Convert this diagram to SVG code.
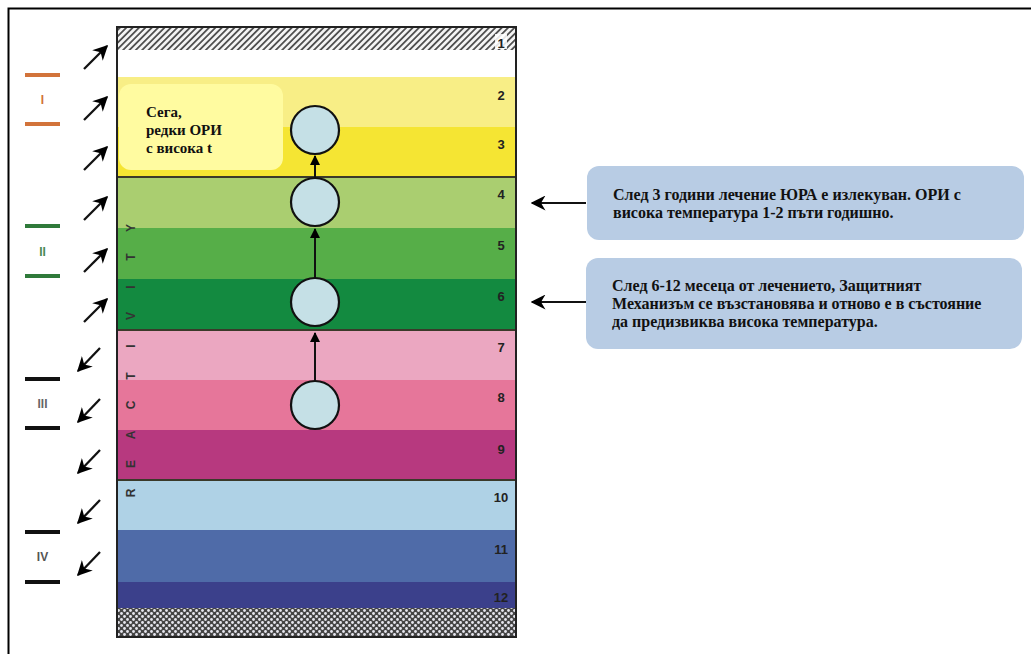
<svg xmlns="http://www.w3.org/2000/svg" width="1031" height="654" viewBox="0 0 1031 654">
<defs>
<pattern id="diag" width="4.5" height="4.5" patternUnits="userSpaceOnUse" patternTransform="rotate(45)">
<rect width="4.5" height="4.5" fill="#f4f4f4"/>
<rect width="1.8" height="4.5" fill="#505050"/>
</pattern>
<pattern id="dots" width="6" height="6" patternUnits="userSpaceOnUse">
<rect width="6" height="6" fill="#444"/>
<circle cx="1.5" cy="1.5" r="1.4" fill="#e6e6ee"/>
<circle cx="4.5" cy="4.5" r="1.4" fill="#e6e6ee"/>
</pattern>
<marker id="ah" viewBox="0 0 10 10" refX="9" refY="5" markerWidth="10" markerHeight="11" markerUnits="userSpaceOnUse" orient="auto">
<path d="M0,0 L10,5 L0,10 Z" fill="#000"/>
</marker>
<marker id="ahb" viewBox="0 0 10 10" refX="9" refY="5" markerWidth="15" markerHeight="15" markerUnits="userSpaceOnUse" orient="auto">
<path d="M0,0 L10,5 L0,10 L3,5 Z" fill="#000"/>
</marker>
</defs>
<style>
.num{font-family:"Liberation Sans",Arial,sans-serif;font-size:13px;font-weight:bold;fill:#222;text-anchor:middle}
.let{font-family:"Liberation Sans",Arial,sans-serif;font-size:12px;font-weight:bold;fill:#333;text-anchor:middle}
.note{font-family:"Liberation Serif","Times New Roman",serif;font-size:15px;font-weight:bold;fill:#111}
.note2{font-family:"Liberation Serif","Times New Roman",serif;font-size:16px;font-weight:bold;fill:#111}
.circ{fill:#c5e0e6;stroke:#111;stroke-width:2.2}
.sep{stroke:#3a3a2a;stroke-width:2}
.diag{stroke:#111;stroke-width:2.3;marker-end:url(#ahb)}
.bar{stroke-width:4}
.roman{font-family:"Liberation Sans",Arial,sans-serif;font-size:12px;font-weight:bold;text-anchor:middle}
</style>
<rect width="1031" height="654" fill="#fff"/>
<path d="M8.5,654 L8.5,8.5 L1031,8.5" fill="none" stroke="#000" stroke-width="2"/>

<g id="column">
<rect x="117" y="27" width="399" height="23" fill="url(#diag)"/>
<rect x="117" y="50" width="399" height="27" fill="#ffffff"/>
<rect x="117" y="77" width="399" height="50" fill="#f8ee86"/>
<rect x="117" y="127" width="399" height="50" fill="#f5e533"/>
<rect x="117" y="177" width="399" height="51" fill="#aace70"/>
<rect x="117" y="228" width="399" height="51" fill="#56ae48"/>
<rect x="117" y="279" width="399" height="51" fill="#138a40"/>
<rect x="117" y="330" width="399" height="50" fill="#eba7c1"/>
<rect x="117" y="380" width="399" height="50" fill="#e6769a"/>
<rect x="117" y="430" width="399" height="50" fill="#b7397f"/>
<rect x="117" y="480" width="399" height="50" fill="#afd2e6"/>
<rect x="117" y="530" width="399" height="52" fill="#4f6ba8"/>
<rect x="117" y="582" width="399" height="26" fill="#3b408b"/>
<rect x="117" y="608" width="399" height="29" fill="url(#dots)"/>
<line class="sep" x1="117" y1="177" x2="516" y2="177"/>
<line class="sep" x1="117" y1="330" x2="516" y2="330"/>
<line class="sep" x1="117" y1="480" x2="516" y2="480"/>
<rect x="117" y="27" width="399" height="610" fill="none" stroke="#222" stroke-width="2"/>
<rect x="495" y="34" width="12" height="15" fill="#fff" opacity="0.85"/>
<text class="num" x="501" y="48">1</text>
<text class="num" x="501" y="100">2</text>
<text class="num" x="501" y="149">3</text>
<text class="num" x="501" y="199">4</text>
<text class="num" x="501" y="250">5</text>
<text class="num" x="501" y="301">6</text>
<text class="num" x="501" y="352">7</text>
<text class="num" x="501" y="402">8</text>
<text class="num" x="501" y="454">9</text>
<text class="num" x="501" y="502">10</text>
<text class="num" x="501" y="554">11</text>
<text class="num" x="501" y="602">12</text>
<g id="reactivity">
<text class="let" transform="translate(135,493) rotate(-90)">R</text>
<text class="let" transform="translate(135,464) rotate(-90)">E</text>
<text class="let" transform="translate(135,435) rotate(-90)">A</text>
<text class="let" transform="translate(135,405) rotate(-90)">C</text>
<text class="let" transform="translate(135,376) rotate(-90)">T</text>
<text class="let" transform="translate(135,346) rotate(-90)">I</text>
<text class="let" transform="translate(135,316) rotate(-90)">V</text>
<text class="let" transform="translate(135,287) rotate(-90)">I</text>
<text class="let" transform="translate(135,257) rotate(-90)">T</text>
<text class="let" transform="translate(135,228) rotate(-90)">Y</text>
</g>
</g>

<g id="connectors">
<line x1="315" y1="381" x2="315" y2="333" stroke="#111" stroke-width="2" marker-end="url(#ah)"/>
<line x1="315" y1="278" x2="315" y2="229" stroke="#111" stroke-width="2" marker-end="url(#ah)"/>
<line x1="315" y1="178" x2="315" y2="156" stroke="#111" stroke-width="2" marker-end="url(#ah)"/>
<line x1="586" y1="203" x2="532" y2="203" stroke="#111" stroke-width="2" marker-end="url(#ahb)"/>
<line x1="586" y1="302" x2="532" y2="302" stroke="#111" stroke-width="2" marker-end="url(#ahb)"/>
<line class="diag" x1="84" y1="69" x2="107" y2="46"/>
<line class="diag" x1="84" y1="120" x2="107" y2="97"/>
<line class="diag" x1="84" y1="170" x2="107" y2="147"/>
<line class="diag" x1="84" y1="220" x2="107" y2="197"/>
<line class="diag" x1="84" y1="272" x2="107" y2="249"/>
<line class="diag" x1="84" y1="322" x2="107" y2="299"/>
<line class="diag" x1="100" y1="348" x2="78" y2="371"/>
<line class="diag" x1="100" y1="399" x2="78" y2="422"/>
<line class="diag" x1="100" y1="450" x2="78" y2="473"/>
<line class="diag" x1="100" y1="500" x2="78" y2="523"/>
<line class="diag" x1="100" y1="552" x2="78" y2="575"/>
</g>

<g id="circle1"><circle class="circ" cx="315" cy="130" r="24"/></g>
<g id="circle2"><circle class="circ" cx="315" cy="202" r="24"/></g>
<g id="circle3"><circle class="circ" cx="315" cy="302" r="24"/></g>
<g id="circle4"><circle class="circ" cx="315" cy="405" r="24"/></g>

<g id="note-now">
<rect x="119" y="84" width="164" height="86" rx="12" fill="#fffba0"/>
<text class="note" x="146" y="117">Сега,</text>
<text class="note" x="146" y="135">редки ОРИ</text>
<text class="note" x="146" y="153">с висока t</text>
</g>

<g id="note-3years">
<rect x="587" y="166" width="437" height="74" rx="12" fill="#b8cce4"/>
<text class="note2" x="613" y="200">След 3 години лечение ЮРА е излекуван. ОРИ с</text>
<text class="note2" x="613" y="218">висока температура 1-2 пъти годишно.</text>
</g>

<g id="note-6months">
<rect x="586" y="258" width="436" height="91" rx="12" fill="#b8cce4"/>
<text class="note2" x="612" y="291">След 6-12 месеца от лечението, Защитният</text>
<text class="note2" x="612" y="309">Механизъм се възстановява и отново е в състояние</text>
<text class="note2" x="612" y="327">да предизвиква висока температура.</text>
</g>

<g id="stage-I">
<line class="bar" x1="25" y1="75" x2="60" y2="75" stroke="#d2733a"/>
<line class="bar" x1="25" y1="124" x2="60" y2="124" stroke="#d2733a"/>
<text class="roman" x="42.5" y="104" fill="#d2733a">I</text>
</g>
<g id="stage-II">
<line class="bar" x1="25" y1="226" x2="60" y2="226" stroke="#2f7a3a"/>
<line class="bar" x1="25" y1="276" x2="60" y2="276" stroke="#2f7a3a"/>
<text class="roman" x="42.5" y="256" fill="#4a8a55">II</text>
</g>
<g id="stage-III">
<line class="bar" x1="25" y1="379" x2="60" y2="379" stroke="#111"/>
<line class="bar" x1="25" y1="428" x2="60" y2="428" stroke="#111"/>
<text class="roman" x="42.5" y="408" fill="#666">III</text>
</g>
<g id="stage-IV">
<line class="bar" x1="25" y1="532" x2="60" y2="532" stroke="#111"/>
<line class="bar" x1="25" y1="582" x2="60" y2="582" stroke="#111"/>
<text class="roman" x="42.5" y="561" fill="#555">IV</text>
</g>
</svg>
